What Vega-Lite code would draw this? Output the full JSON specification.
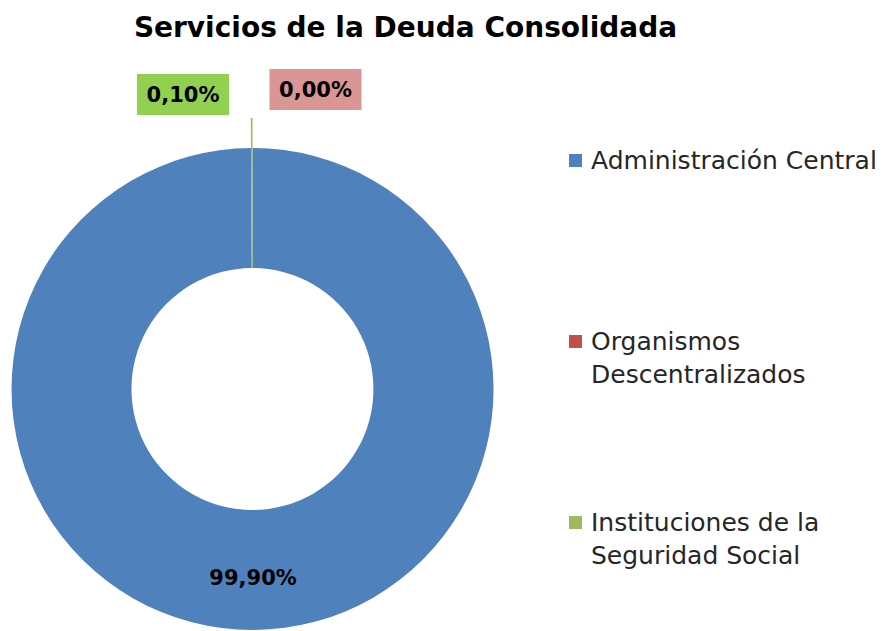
{
  "$schema": "https://vega.github.io/schema/vega-lite/v6.json",
  "autosize": {"type": "none"},
  "width": 505,
  "height": 482,
  "padding": {"left": 0, "top": 148, "right": 381, "bottom": 1},
  "background": "white",
  "config": {
    "view": {"stroke": null},
    "font": "DejaVu Sans",
    "locale": {"number": {"decimal": ",", "thousands": ".", "grouping": [3], "currency": ["", " €"]}}
  },
  "title": {
    "text": "Servicios de la Deuda Consolidada",
    "font": "DejaVu Sans",
    "fontSize": 28,
    "fontWeight": "bold",
    "color": "#000000",
    "anchor": "middle",
    "frame": "group",
    "baseline": "alphabetic",
    "dx": 153,
    "offset": 4
  },
  "data": {
    "values": [
      {"segmento": "Administración Central", "valor": 0.999, "orden": 1},
      {"segmento": "Organismos Descentralizados", "valor": 0.0, "orden": 2},
      {"segmento": "Instituciones de la Seguridad Social", "valor": 0.001, "orden": 3}
    ]
  },
  "layer": [
    {
      "mark": {"type": "arc", "outerRadius": 241, "innerRadius": 121},
      "encoding": {
        "theta": {"field": "valor", "type": "quantitative", "stack": true},
        "order": {"field": "orden", "type": "quantitative"},
        "color": {
          "field": "segmento",
          "type": "nominal",
          "scale": {
            "domain": ["Administración Central", "Organismos Descentralizados", "Instituciones de la Seguridad Social"],
            "range": ["#4F81BD", "#C0504D", "#9BBB59"]
          },
          "legend": {
            "orient": "right",
            "offset": 58,
            "padding": 0,
            "title": null,
            "symbolType": "square",
            "symbolSize": 169,
            "symbolStrokeWidth": 0,
            "labelFont": "DejaVu Sans",
            "labelFontSize": 25,
            "labelColor": "#262626",
            "labelLimit": 400,
            "labelOffset": 3,
            "rowPadding": 122,
            "labelExpr": "datum.label == 'Organismos Descentralizados' ? ['Organismos', 'Descentralizados'] : datum.label == 'Instituciones de la Seguridad Social' ? ['Instituciones de la', 'Seguridad Social'] : [datum.label, '']",
            "encode": {"labels": {"update": {"lineHeight": {"value": 33}}}}
          }
        }
      }
    },
    {
      "mark": {"type": "arc", "outerRadius": 271, "innerRadius": 241},
      "encoding": {
        "theta": {"field": "valor", "type": "quantitative", "stack": true},
        "order": {"field": "orden", "type": "quantitative"},
        "detail": {"field": "segmento", "type": "nominal"},
        "color": {
          "condition": {"test": "datum.segmento === 'Instituciones de la Seguridad Social'", "value": "#9BBB59"},
          "value": "transparent"
        }
      }
    },
    {
      "mark": {"type": "text", "radius": 190, "fontSize": 21, "fontWeight": "bold", "font": "DejaVu Sans", "color": "#000000", "baseline": "middle"},
      "encoding": {
        "theta": {"field": "valor", "type": "quantitative", "stack": true},
        "order": {"field": "orden", "type": "quantitative"},
        "detail": {"field": "segmento", "type": "nominal"},
        "text": {"field": "valor", "type": "quantitative", "format": ".2%"},
        "opacity": {
          "condition": {"test": "datum.segmento !== 'Administración Central'", "value": 0},
          "value": 1
        }
      }
    },
    {
      "transform": [{"filter": "datum.segmento !== 'Administración Central'"}],
      "mark": {"type": "point", "shape": "M-1,-0.4457H1V0.4457H-1Z", "size": 8464, "filled": true, "opacity": 1, "strokeWidth": 0},
      "encoding": {
        "x": {
          "field": "segmento", "type": "nominal", "axis": null,
          "scale": {"type": "point", "domain": ["Instituciones de la Seguridad Social", "Organismos Descentralizados"], "range": [183, 315.5], "padding": 0}
        },
        "y": {
          "field": "segmento", "type": "nominal", "axis": null,
          "scale": {"type": "point", "domain": ["Instituciones de la Seguridad Social", "Organismos Descentralizados"], "range": [-53.5, -58.5], "padding": 0}
        },
        "fill": {
          "field": "segmento", "type": "nominal", "legend": null,
          "scale": {"domain": ["Instituciones de la Seguridad Social", "Organismos Descentralizados"], "range": ["#92D050", "#D99694"]}
        }
      }
    },
    {
      "transform": [{"filter": "datum.segmento !== 'Administración Central'"}],
      "mark": {"type": "text", "fontSize": 21, "fontWeight": "bold", "font": "DejaVu Sans", "color": "#000000", "baseline": "middle", "dy": 1},
      "encoding": {
        "x": {"field": "segmento", "type": "nominal", "axis": null},
        "y": {"field": "segmento", "type": "nominal", "axis": null},
        "text": {"field": "valor", "type": "quantitative", "format": ".2%"}
      }
    }
  ]
}
